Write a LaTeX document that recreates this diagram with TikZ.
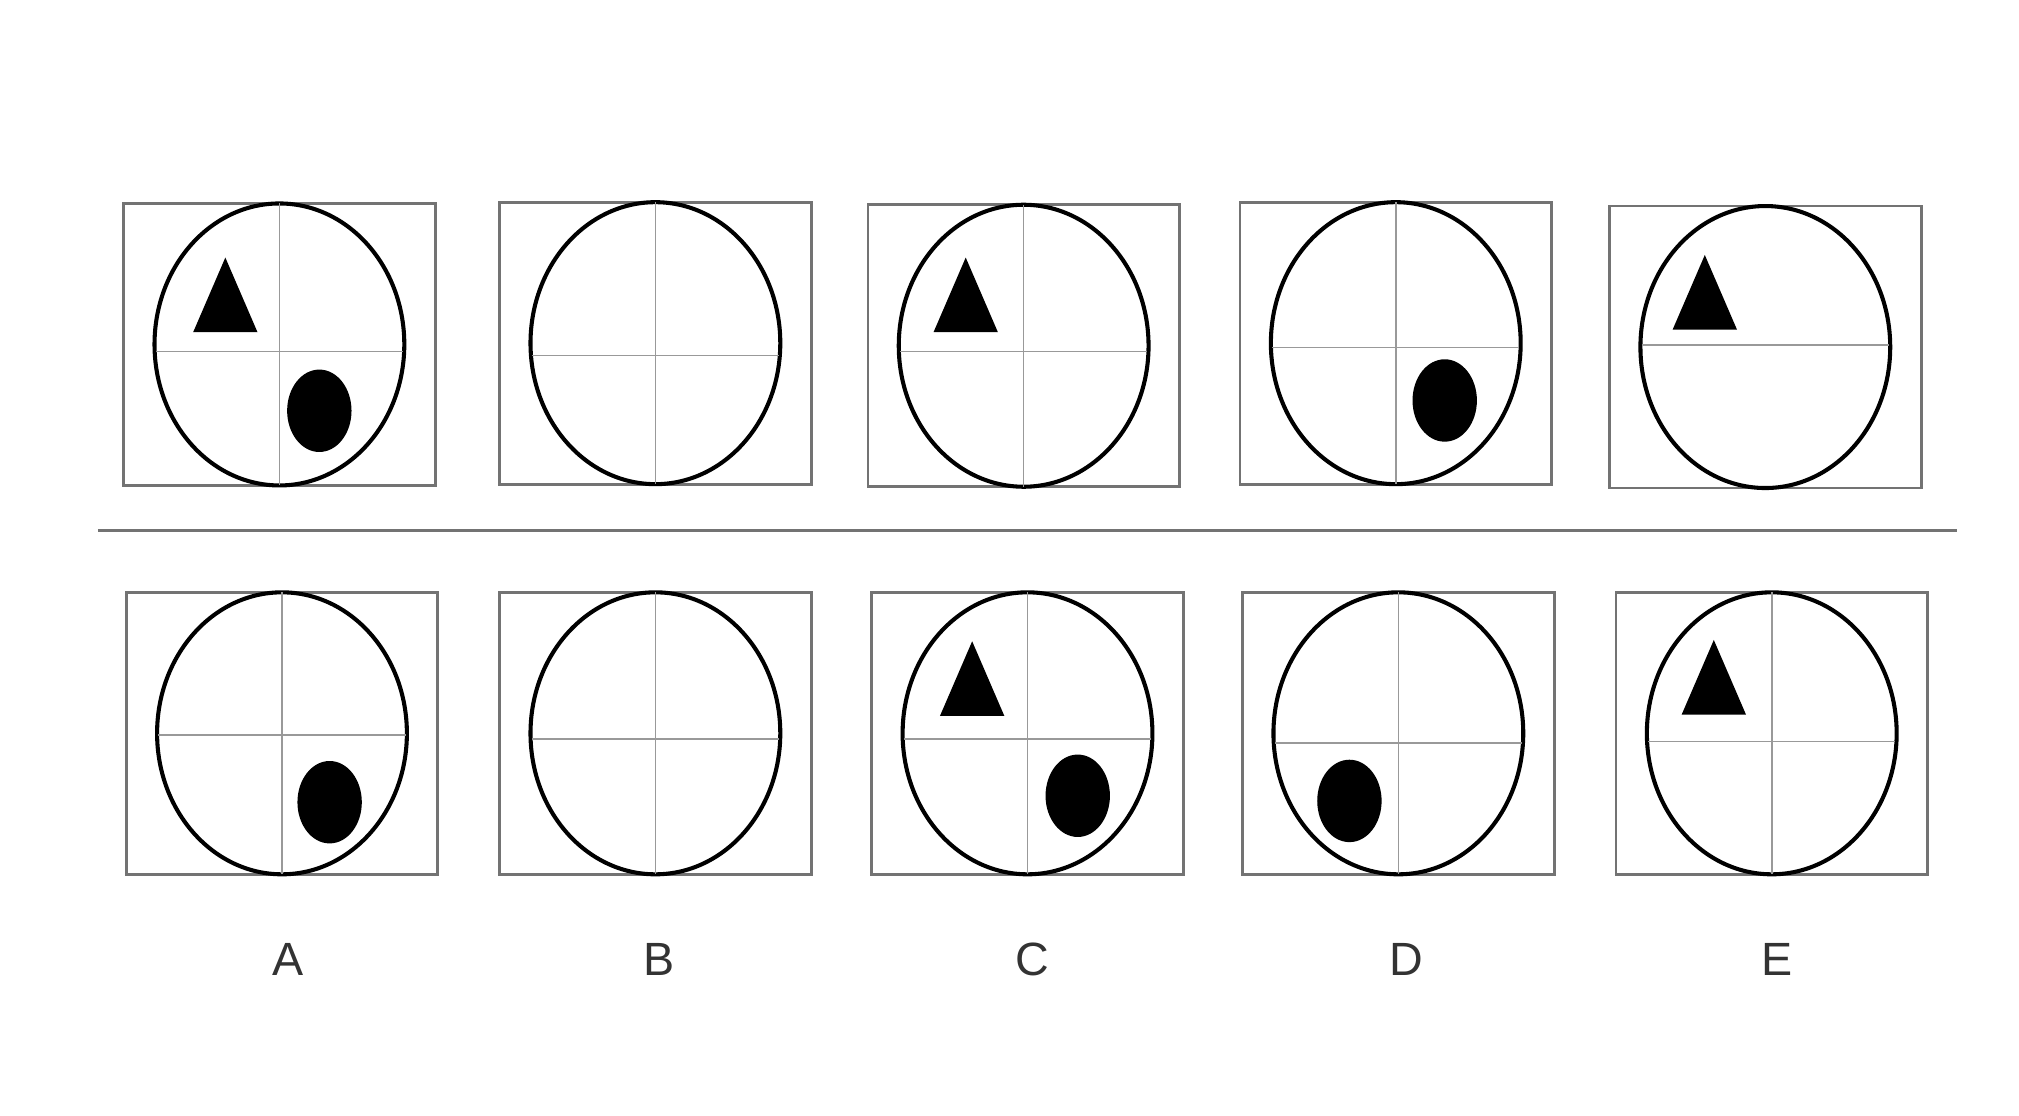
\documentclass[tikz,border=0pt]{standalone}
\usepackage{fontspec}
\setmainfont{Liberation Sans}
\begin{document}
\begin{tikzpicture}[x=0.01cm, y=-0.01cm,
    frame/.style={draw=black!55, line width=0.6pt},
    ring/.style={draw=black, line width=0.9pt},
    cross/.style={draw=black!40, line width=0.35pt},
    blob/.style={fill=black, line join=round},
    letter/.style={font=\fontsize{10.3}{12}\selectfont, text=black!80}]
  \useasboundingbox (0,0) rectangle (1568,866.7);
  % box left / box top / line height / vertical line
  \foreach \bx/\by/\hy/\vl in {96/158/273/1, 388/157/276/1, 674/159/273/1, 963/157/270/1, 1250/160/268/0,
                                98/460/571/1, 388/460/574/1, 677/460/574/1, 965/460/577/1, 1255/460/576/1}{
    \draw[frame] (\bx,\by) rectangle ++(242,219);
    \draw[ring] (\bx+121,\by+109.5) ellipse [x radius=97, y radius=109.5];
    \draw[cross] (\bx+25,\hy) -- (\bx+217,\hy);
    \ifnum\vl=1 \draw[cross] (\bx+121,\by) -- (\bx+121,\by+219); \fi
  }
  \draw[frame] (76,412) -- (1520,412);
  % triangles and dots
  \foreach \tx/\ty in {175/200, 750/200, 1324/198, 755/498, 1331/497}
    \fill[blob] (\tx,\ty) -- ++(25,58) -- ++(-50,0) -- cycle;
  \foreach \dx/\dy in {248/319, 1122/311, 256/623, 837/618, 1048/622}
    \fill[blob] (\dx,\dy) ellipse [x radius=25, y radius=32];
  \foreach \n/\lx in {A/224, B/512, C/802, D/1092, E/1380}
    \node[letter] (lab\n) at (\lx,745) {\n};
\end{tikzpicture}
\end{document}
